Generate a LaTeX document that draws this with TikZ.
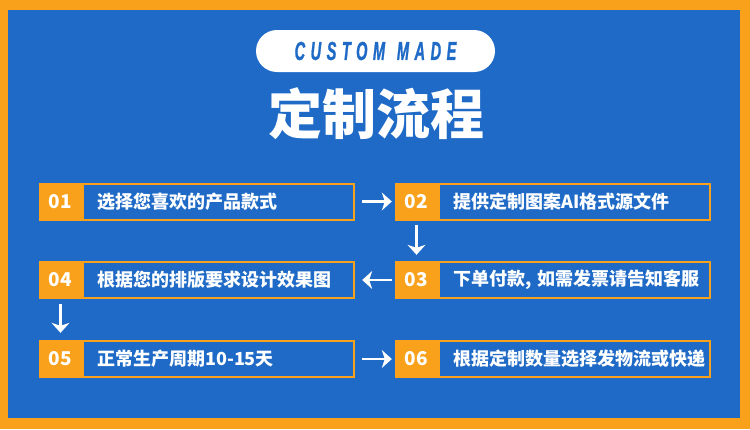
\documentclass[tikz,border=0pt]{standalone}
\usepackage{fontspec}
\usetikzlibrary{positioning,arrows.meta}
\newfontfamily\cjk{Noto Sans CJK SC}
\newfontfamily\latinfont{Liberation Sans}[LetterSpace=38,FakeBold=1.4]
\definecolor{blueC}{RGB}{30,106,198}
\definecolor{orangeC}{RGB}{249,161,27}
\tikzset{
  numbox/.style={fill=orangeC, minimum width=43pt, minimum height=38pt, inner sep=0pt,
    text=white, font=\cjk\bfseries\fontsize{19}{19}\selectfont},
  textbox/.style={draw=orangeC, line width=2pt, fill=blueC, minimum width=271pt,
    minimum height=36pt, inner xsep=14pt, inner ysep=0pt, text width=243pt, align=left,
    text=white, font=\cjk\bfseries\fontsize{18}{18}\selectfont},
  flowarrow/.style={draw=white, line width=2.2pt, -{Stealth[length=10pt,width=18pt,inset=3pt]}}
}
\begin{document}
\begin{tikzpicture}[x=1pt,y=-1pt,line cap=butt,line join=miter]
  \useasboundingbox (0,0) rectangle (750,429);
  \fill[orangeC] (0,0) rectangle (750,429);
  \fill[blueC] (8,10) rectangle (740,418);
  \node[fill=white, rounded corners=21pt, minimum width=239pt, minimum height=42pt, inner sep=0pt] (pill) at (375.5,51)
    {\scalebox{0.56}[1]{\latinfont\bfseries\itshape\color{blueC}\fontsize{26}{26}\selectfont CUSTOM\hspace{4pt} MADE}};
  \node[text=white, font=\cjk\bfseries\fontsize{54}{54}\selectfont] (title) at (376,114) {定制流程};
  \node[numbox] (n1) at (60.5,201.5) {01};
  \node[textbox, right=0pt of n1] (t1) {选择您喜欢的产品款式};
  \node[numbox] (n2) at (416.5,201.5) {02};
  \node[textbox, right=0pt of n2] (t2) {提供定制图案AI格式源文件};
  \node[numbox] (n3) at (416.5,280) {03};
  \node[textbox, right=0pt of n3] (t3) {下单付款,~如需发票请告知客服};
  \node[numbox] (n4) at (60.5,280) {04};
  \node[textbox, right=0pt of n4] (t4) {根据您的排版要求设计效果图};
  \node[numbox] (n5) at (60.5,359) {05};
  \node[textbox, right=0pt of n5] (t5) {正常生产周期10-15天};
  \node[numbox] (n6) at (416.5,359) {06};
  \node[textbox, right=0pt of n6] (t6) {根据定制数量选择发物流或快递};
  \draw[flowarrow, shorten <=7pt, shorten >=3pt] (t1) -- (n2);
  \draw[flowarrow, shorten <=4pt, shorten >=6pt] (n2) -- (n3);
  \draw[flowarrow, shorten <=3pt, shorten >=7pt] (n3) -- (t4);
  \draw[flowarrow, shorten <=5pt, shorten >=7pt] (n4) -- (n5);
  \draw[flowarrow, shorten <=7pt, shorten >=3pt] (t5) -- (n6);
\end{tikzpicture}
\end{document}
